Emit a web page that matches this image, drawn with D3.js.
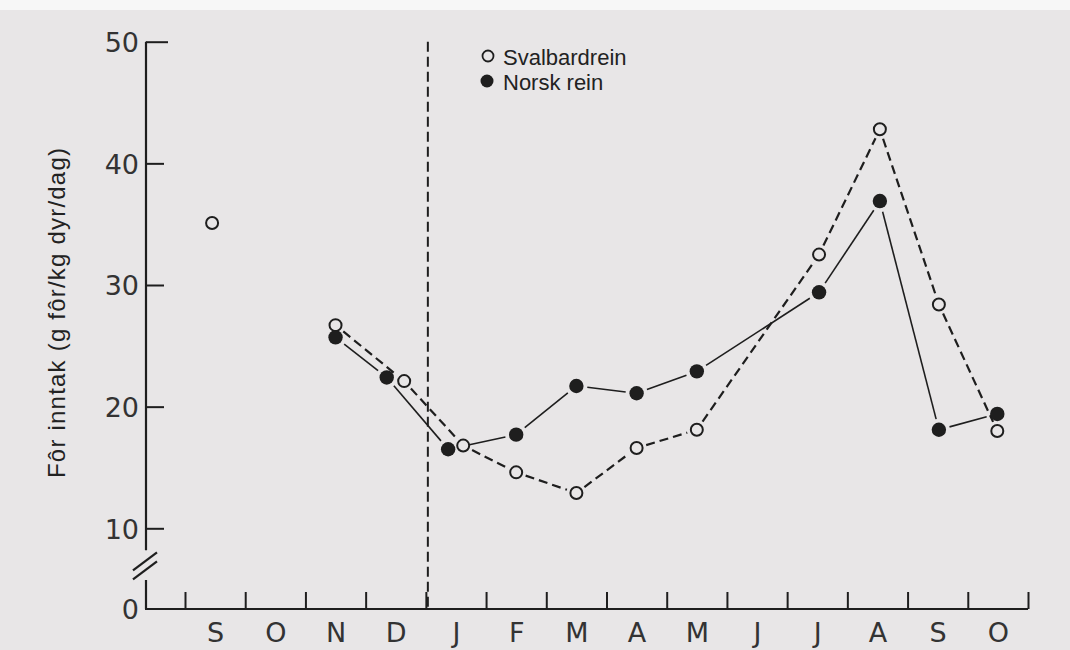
<!DOCTYPE html>
<html><head><meta charset="utf-8">
<script src="https://cdn.jsdelivr.net/npm/d3@7"></script>
<style>html,body{margin:0;padding:0;background:#e8e6e7;} svg{display:block}</style>
</head><body><svg id="c" width="1070" height="650"></svg>
<script>
// ---- data ----
const months = ["S","O","N","D","J","F","M","A","M","J","J","A","S","O"];
const yTicks = [0,10,20,30,40,50];
const seriesNames = ["Svalbardrein", "Norsk rein"];
const yLabel = "Fôr inntak (g fôr/kg dyr/dag)";
// x in months from 1 September (0 = start of Sep)
const svalX = [0.45, 2.5, 3.64, 4.62, 5.5, 6.5, 7.5, 8.5, 10.53, 11.54, 12.52, 13.49];
const svalY = [35.1, 26.7, 22.1, 16.8, 14.6, 12.9, 16.6, 18.1, 32.5, 42.8, 28.4, 18.0];
const svalLineStart = 1; // first point is not connected
const norskX = [2.5, 3.35, 4.37, 5.5, 6.5, 7.5, 8.5, 10.53, 11.54, 12.52, 13.49];
const norskY = [25.7, 22.4, 16.5, 17.7, 21.7, 21.1, 22.9, 29.4, 36.9, 18.1, 19.4];
const dividerMonth = 4; // start of January

// ---- setup ----
const BG = "#e8e6e7", INK = "#1e1e1e";
const svg = d3.select("#c");
svg.append("rect").attr("width",1070).attr("height",650).attr("fill",BG);
svg.append("rect").attr("width",1070).attr("height",10).attr("fill","#f7f7f7");

const x = d3.scaleLinear().domain([0,14]).range([185,1028]);
const y = d3.scaleLinear().domain([0,10,50]).range([609,528.3,41.7]);
const axisX = 146;
const numFont = "'DejaVu Sans', sans-serif";

// ---- y axis ----
const yAxis = d3.axisLeft(y).tickValues(yTicks).tickSize(-18).tickPadding(7).tickFormat(d3.format("d"));
const gy = svg.append("g").attr("transform",`translate(${axisX},0)`).call(yAxis);
gy.select(".domain").remove();
gy.selectAll(".tick line").attr("stroke",INK).attr("stroke-width",2)
  .filter(d=>d===0).remove();
gy.selectAll(".tick").filter(d=>d===50).select("line").attr("x2",22);
gy.selectAll(".tick text").attr("fill","#333").attr("font-size",27)
  .attr("font-family",numFont).attr("font-weight",400).attr("dy","0.36em");
// axis line with break
const yTop = y(50), yBrkTop = y(10)+22, yBrkBot = y(0)-29, y0 = y(0);
svg.append("path").attr("d",`M${axisX},${yTop}V${yBrkTop}M${axisX},${yBrkBot}V${y0}`)
  .attr("stroke",INK).attr("stroke-width",2.2).attr("fill","none");
[0,9].forEach(o=>{
  svg.append("line").attr("x1",axisX-13).attr("y1",yBrkTop+20+o).attr("x2",axisX+11).attr("y2",yBrkTop+2+o)
    .attr("stroke",INK).attr("stroke-width",2.2);
});

// ---- x axis ----
svg.append("line").attr("x1",axisX-1).attr("x2",x(14)).attr("y1",y0).attr("y2",y0)
  .attr("stroke",INK).attr("stroke-width",2.2);
const gxt = svg.append("g").attr("transform",`translate(0,${y0})`)
  .call(d3.axisBottom(x).tickValues(d3.range(15)).tickSize(-17).tickFormat(""));
gxt.select(".domain").remove();
gxt.selectAll(".tick line").attr("stroke",INK).attr("stroke-width",2);
const gxl = svg.append("g").attr("transform",`translate(0,${y0})`)
  .call(d3.axisBottom(x).tickValues(d3.range(14).map(i=>i+0.5)).tickSize(0).tickPadding(14)
    .tickFormat(d=>months[Math.floor(d)]));
gxl.select(".domain").remove();
gxl.selectAll(".tick text").attr("fill","#333").attr("font-size",27)
  .attr("font-family",numFont).attr("font-weight",400);

// ---- divider ----
svg.append("line").attr("x1",x(dividerMonth)+2).attr("x2",x(dividerMonth)+2)
  .attr("y1",y(50)).attr("y2",y0).attr("stroke",INK).attr("stroke-width",2)
  .attr("stroke-dasharray","10,5");

// ---- y label ----
svg.append("text").attr("transform",`translate(65,313) rotate(-90)`)
  .attr("text-anchor","middle").attr("font-family","'Liberation Sans', Arial, sans-serif")
  .attr("font-size",24).attr("fill","#222").attr("textLength",330).attr("lengthAdjust","spacing")
  .text(yLabel);

// ---- lines (trimmed segments) ----
function segs(xs, ys, start, trim){
  const pts = xs.map((v,i)=>[x(v), y(ys[i])]).slice(start);
  const out = [];
  for(let i=0;i<pts.length-1;i++){
    const [ax,ay]=pts[i],[bx,by]=pts[i+1];
    const dx=bx-ax, dy=by-ay, L=Math.hypot(dx,dy), ux=dx/L, uy=dy/L;
    out.push([ax+ux*trim, ay+uy*trim, bx-ux*trim, by-uy*trim]);
  }
  return out;
}
svg.append("g").selectAll("line").data(segs(svalX,svalY,svalLineStart,10)).join("line")
  .attr("x1",d=>d[0]).attr("y1",d=>d[1]).attr("x2",d=>d[2]).attr("y2",d=>d[3])
  .attr("stroke",INK).attr("stroke-width",2.2).attr("stroke-dasharray","9,5");
svg.append("g").selectAll("line").data(segs(norskX,norskY,0,11)).join("line")
  .attr("x1",d=>d[0]).attr("y1",d=>d[1]).attr("x2",d=>d[2]).attr("y2",d=>d[3])
  .attr("stroke",INK).attr("stroke-width",1.6);

// ---- markers ----
svg.append("g").selectAll("circle").data(svalX.map((v,i)=>[v,svalY[i]])).join("circle")
  .attr("cx",d=>x(d[0])).attr("cy",d=>y(d[1])).attr("r",6)
  .attr("fill",BG).attr("stroke",INK).attr("stroke-width",2);
svg.append("g").selectAll("circle").data(norskX.map((v,i)=>[v,norskY[i]])).join("circle")
  .attr("cx",d=>x(d[0])).attr("cy",d=>y(d[1])).attr("r",7.2)
  .attr("fill",INK);

// ---- legend ----
const lg = svg.append("g").attr("font-family","'Liberation Sans', Arial, sans-serif")
  .attr("font-size",22).attr("fill","#222");
lg.append("circle").attr("cx",488).attr("cy",56).attr("r",5.5).attr("fill",BG).attr("stroke",INK).attr("stroke-width",1.8);
lg.append("text").attr("x",503).attr("y",65).text(seriesNames[0]);
lg.append("circle").attr("cx",487).attr("cy",81).attr("r",6.5).attr("fill",INK);
lg.append("text").attr("x",503).attr("y",90).text(seriesNames[1]);
</script></body></html>
